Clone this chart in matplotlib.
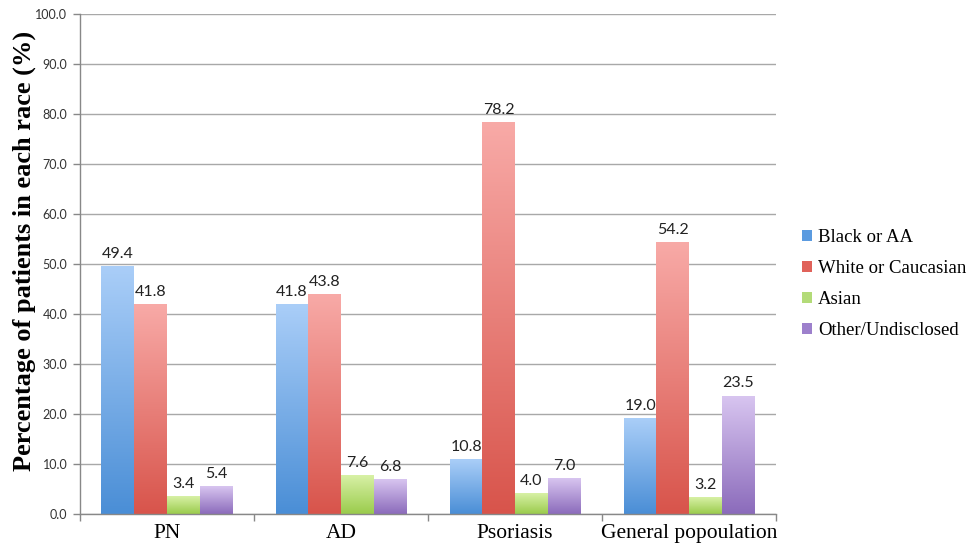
import matplotlib
matplotlib.use("Agg")
import matplotlib.pyplot as plt
import numpy as np
from matplotlib.colors import LinearSegmentedColormap
from matplotlib.patches import Patch

# data
groups = ["PN", "AD", "Psoriasis", "General popoulation"]
races = ["Black or AA", "White or Caucasian", "Asian", "Other/Undisclosed"]
black = [49.4, 41.8, 10.8, 19.0]
white = [41.8, 43.8, 78.2, 54.2]
asian = [3.4, 7.6, 4.0, 3.2]
other = [5.4, 6.8, 7.0, 23.5]
series = [black, white, asian, other]

# (bottom colour, top colour) for each series gradient
shades = [("#4a8ed6", "#aacef8"),
          ("#d8544b", "#f8aaa7"),
          ("#9acb4c", "#d8f1a6"),
          ("#8b6bbb", "#d8c5f0")]
legend_colors = ["#5b9be0", "#e0625a", "#b3db78", "#9d80cc"]

fig = plt.figure(figsize=(9.74, 5.59), dpi=100)
ax = fig.add_axes([0.082, 0.0805, 0.715, 0.8945])

n_groups = len(groups)
width = 0.188
x = np.arange(n_groups)
grad = np.linspace(0, 1, 256).reshape(-1, 1)

for i, (vals, (c0, c1)) in enumerate(zip(series, shades)):
    cmap = LinearSegmentedColormap.from_list("g%d" % i, [c0, c1])
    offs = (i - 1.5) * width
    for xi, v in zip(x, vals):
        x0 = xi + offs - width / 2
        ax.imshow(grad, cmap=cmap, origin="lower", aspect="auto",
                  extent=[x0, x0 + width, 0, v], zorder=2, interpolation="bicubic")
        ax.text(xi + offs, v + 1.2, "%.1f" % v, ha="center", va="bottom",
                fontsize=11.5, family="Lato", color="#222222", zorder=3)

ax.set_xlim(-0.5, n_groups - 0.5)
ax.set_ylim(0, 100)
ax.set_yticks(np.arange(0, 101, 10))
ax.set_yticklabels(["%.1f" % t for t in np.arange(0, 101, 10)],
                   family="Lato", fontsize=9, color="#333333")
ax.yaxis.grid(True, color="#a8a8a8", linewidth=1.0)
ax.set_axisbelow(True)

# category labels centred, ticks at the group boundaries
ax.set_xticks(np.arange(-0.5, n_groups, 1.0))
ax.set_xticklabels([])
ax.set_xticks(x, minor=True)
ax.set_xticklabels(groups, minor=True, family="Liberation Serif", fontsize=15.5)
ax.tick_params(axis="x", which="minor", length=0, pad=7)
ax.tick_params(axis="x", which="major", length=5, color="#888888", width=1)
ax.tick_params(axis="y", length=5, color="#888888", width=1, pad=4)

for s in ["top", "right"]:
    ax.spines[s].set_visible(False)
for s in ["left", "bottom"]:
    ax.spines[s].set_color("#888888")
    ax.spines[s].set_linewidth(1.0)

ax.set_ylabel("Percentage of patients in each race (%)", family="Liberation Serif",
              fontsize=19, fontweight="bold")
ax.yaxis.set_label_coords(-0.063, 0.526)

handles = [Patch(facecolor=c, edgecolor="none") for c in legend_colors]
fig.legend(handles, races, loc="upper left", bbox_to_anchor=(0.806, 0.62),
           frameon=False, prop={"family": "Liberation Serif", "size": 13.5},
           handlelength=0.55, handleheight=0.55, handletextpad=0.3, labelspacing=0.74)

fig.savefig("out.png", dpi=100)
